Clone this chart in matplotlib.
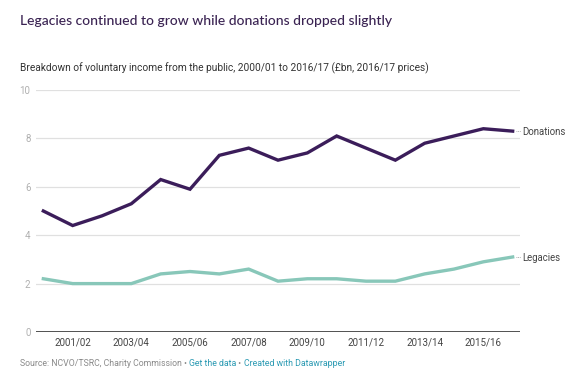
import numpy as np
import matplotlib
matplotlib.use("Agg")
import matplotlib.pyplot as plt

plt.rcParams['font.family'] = ['Roboto', 'DejaVu Sans']

years = ["2000/01", "2001/02", "2002/03", "2003/04", "2004/05", "2005/06",
         "2006/07", "2007/08", "2008/09", "2009/10", "2010/11", "2011/12",
         "2012/13", "2013/14", "2014/15", "2015/16", "2016/17"]
donations = [5.0, 4.4, 4.8, 5.3, 6.3, 5.9, 7.3, 7.6, 7.1, 7.4, 8.1, 7.6,
             7.1, 7.8, 8.1, 8.4, 8.3]
legacies = [2.2, 2.0, 2.0, 2.0, 2.4, 2.5, 2.4, 2.6, 2.1, 2.2, 2.2, 2.1,
            2.1, 2.4, 2.6, 2.9, 3.1]
yticks = [0, 2, 4, 6, 8, 10]

c_don = "#3b1d5a"
c_leg = "#88c7b9"

W, H = 580, 373
fig = plt.figure(figsize=(W / 100, H / 100), dpi=100)
fig.patch.set_facecolor("white")
ax = fig.add_axes([36 / W, 1 - 332 / H, (520 - 36) / W, (332 - 90) / H])

x = np.arange(len(years))
for v in yticks[1:]:
    ax.axhline(v, color="#e0e0e0", lw=0.9, zorder=1)
ax.axhline(0, color="#333333", lw=1.2, zorder=3)

ax.plot(x, donations, color=c_don, lw=2.4, solid_joinstyle="miter", zorder=4)
ax.plot(x, legacies, color=c_leg, lw=2.4, solid_joinstyle="miter", zorder=4)

ax.set_xlim(-0.25, 16.25)
ax.set_ylim(0, 10)
for s in ax.spines.values():
    s.set_visible(False)
ax.set_yticks(yticks)
ax.set_yticklabels([str(v) for v in yticks])
ax.set_xticks(x[1::2])
ax.set_xticklabels(years[1::2])
ax.tick_params(axis="y", length=0, labelsize=7, labelcolor="#b0b0b0", pad=4)
ax.tick_params(axis="x", length=0, labelsize=7, labelcolor="#444444", pad=4)

# line labels with small dotted leaders
for vals, name in [(donations, "Donations"), (legacies, "Legacies")]:
    ax.plot([x[-1] + 0.12, x[-1] + 0.3], [vals[-1], vals[-1]], color="#999999",
            lw=0.6, ls=(0, (1, 1)), clip_on=False)
    ax.text(x[-1] + 0.33, vals[-1] - 0.05, name, fontsize=6.9, color="#444444",
            va="center", ha="left", clip_on=False)

fig.text(20 / W, 1 - 21 / H, "Legacies continued to grow while donations dropped slightly",
         family=["Lato", "DejaVu Sans"], fontsize=10, color="#3a2352",
         weight="medium", va="center", ha="left")
fig.text(20 / W, 1 - 68 / H,
         "Breakdown of voluntary income from the public, 2000/01 to 2016/17 (£bn, 2016/17 prices)",
         fontsize=7.3, color="#333333", va="center", ha="left")

foot_y = 1 - 364 / H
t1 = fig.text(20 / W, foot_y, "Source: NCVO/TSRC, Charity Commission \u2022 ",
              fontsize=6.3, color="#8a8a8a", va="center", ha="left")
fig.canvas.draw()
r = fig.canvas.get_renderer()
bb = t1.get_window_extent(r)
t2 = fig.text(bb.x1 / W, foot_y, "Get the data",
              fontsize=6.3, color="#2b9ab3", va="center", ha="left")
bb = t2.get_window_extent(r)
t3 = fig.text(bb.x1 / W, foot_y, " \u2022 ",
              fontsize=6.3, color="#8a8a8a", va="center", ha="left")
bb = t3.get_window_extent(r)
fig.text(bb.x1 / W, foot_y, "Created with Datawrapper",
         fontsize=6.3, color="#2b9ab3", va="center", ha="left")

fig.savefig("out.png", dpi=100, facecolor="white")
